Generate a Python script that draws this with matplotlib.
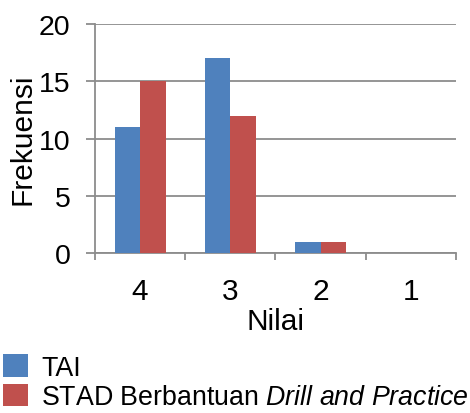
import matplotlib.pyplot as plt
import numpy as np

# data
nilai = ['4', '3', '2', '1']
tai = [11, 17, 1, 0]
stad = [15, 12, 1, 0]

plt.rcParams['font.family'] = ['Liberation Sans', 'DejaVu Sans']
plt.rcParams['mathtext.fontset'] = 'custom'
plt.rcParams['mathtext.rm'] = 'Liberation Sans'
plt.rcParams['mathtext.it'] = 'Liberation Sans:italic'

grey = '#8c8c8c'
fig = plt.figure(figsize=(4.7, 4.14), dpi=100)
ax = fig.add_axes([0.202, 0.3865, 0.768, 0.553])

x = np.arange(len(nilai))
w = 0.283
ax.bar(x - w / 2, tai, w, color='#4f81bd', label='TAI', zorder=3)
ax.bar(x + w / 2, stad, w, color='#c0504d',
       label='STAD Berbantuan $\\it{Drill\\ and\\ Practice}$', zorder=3)

ax.set_xlim(-0.5, 3.5)
ax.set_ylim(0, 20)
ax.set_yticks([0, 5, 10, 15, 20])
ax.set_xticks(x)
ax.set_xticklabels(nilai)
ax.set_xticks(np.arange(-0.5, 4, 1), minor=True)

ax.yaxis.grid(True, color=grey, linewidth=1.3, zorder=0)
for s in ['top', 'right']:
    ax.spines[s].set_visible(False)
for s in ['left', 'bottom']:
    ax.spines[s].set_color(grey)
    ax.spines[s].set_linewidth(1.3)

ax.tick_params(axis='y', length=6.5, width=1.3, color=grey, pad=11, labelsize=20.5)
ax.tick_params(axis='x', which='major', length=0, pad=17, labelsize=21.5)
ax.tick_params(axis='x', which='minor', length=5, width=1.3, color=grey)

ax.set_ylabel('Frekuensi', fontsize=21.5, labelpad=2)
ax.set_xlabel('Nilai', fontsize=21.5, labelpad=2)

fig.legend(loc='lower left', bbox_to_anchor=(0.0, 0.0), frameon=False,
           fontsize=19.3, handlelength=0.93, handleheight=0.9,
           handletextpad=0.5, labelspacing=0.12, borderpad=0.1,
           borderaxespad=0.0)

fig.savefig('out.png', dpi=100)
